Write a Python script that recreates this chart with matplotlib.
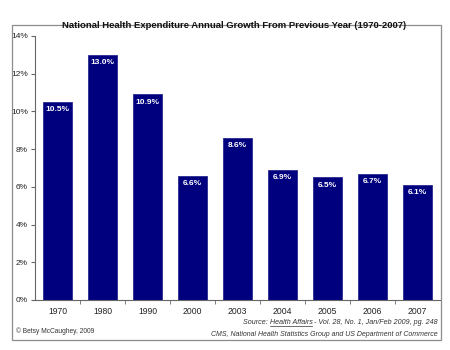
import matplotlib
matplotlib.use("Agg")
import matplotlib.pyplot as plt
from matplotlib.patches import Rectangle
from matplotlib.lines import Line2D

years = ["1970", "1980", "1990", "2000", "2003", "2004", "2005", "2006", "2007"]
growth = [10.5, 13.0, 10.9, 6.6, 8.6, 6.9, 6.5, 6.7, 6.1]
yticks = [0, 2, 4, 6, 8, 10, 12, 14]

plt.rcParams['font.family'] = ['Liberation Sans', 'DejaVu Sans']

W, H = 450, 350
fig = plt.figure(figsize=(4.5, 3.5), dpi=100)
fig.patch.set_facecolor("white")

# outer frame
fig.add_artist(Rectangle((12 / W, 1 - 340 / H), (441 - 12) / W, (340 - 25) / H,
                         transform=fig.transFigure, fill=False,
                         edgecolor="#8c8c8c", linewidth=0.9))

ax = fig.add_axes([35 / W, 1 - 300 / H, 405 / W, (300 - 36) / H])
x = list(range(len(years)))
bars = ax.bar(x, growth, width=0.63, color="#00007f", edgecolor="#2a2a90", linewidth=0.6)
ax.set_xlim(-0.5, len(years) - 0.5)
ax.set_ylim(0, 14)
ax.set_yticks(yticks)
ax.set_yticklabels([f"{t}%" for t in yticks], fontsize=6.0, color="#222222")
ax.set_xticks(x)
ax.set_xticklabels(years, fontsize=6.2, color="#222222")
ax.set_xticks([i + 0.5 for i in x[:-1]], minor=True)
ax.tick_params(axis="x", which="major", length=0, pad=5)
ax.tick_params(axis="x", which="minor", length=3, direction="out", color="#666666")
ax.tick_params(axis="y", length=3, direction="out", color="#666666", pad=2)
for s in ["top", "right"]:
    ax.spines[s].set_visible(False)
for s in ["left", "bottom"]:
    ax.spines[s].set_color("#666666")
    ax.spines[s].set_linewidth(0.8)

for xi, v in zip(x, growth):
    ax.annotate(f"{v:.1f}%", (xi, v), xytext=(0, -3), textcoords="offset points",
                ha="center", va="top", color="white", fontsize=6.0, fontweight="bold")

fig.text(234 / W, 1 - 26 / H, "National Health Expenditure Annual Growth From Previous Year (1970-2007)",
         ha="center", va="center", fontsize=6.8, fontweight="bold", color="#111111")

fig.text(16 / W, 1 - 331 / H, "\u00a9 Betsy McCaughey, 2009", ha="left", va="center",
         fontsize=4.8, color="#333333")

fig.text(438 / W, 1 - 335 / H, "CMS, National Health Statistics Group and US Department of Commerce",
         ha="right", va="center", fontsize=5.0, style="italic", color="#333333")

# source line with underlined journal name
fig.canvas.draw()
r = fig.canvas.get_renderer()
ysrc = 1 - 323 / H
t3 = fig.text(438 / W, ysrc, " - Vol. 28, No. 1, Jan/Feb 2009, pg. 248", ha="right", va="center",
              fontsize=5.1, style="italic", color="#333333")
bb3 = t3.get_window_extent(r)
t2 = fig.text(bb3.x0 / W, ysrc, "Health Affairs", ha="right", va="center",
              fontsize=5.1, style="italic", color="#333333")
bb2 = t2.get_window_extent(r)
t1 = fig.text(bb2.x0 / W, ysrc, "Source: ", ha="right", va="center",
              fontsize=5.1, style="italic", color="#333333")
fig.add_artist(Line2D([bb2.x0 / W, bb2.x1 / W], [(bb2.y0 + 0.5) / H, (bb2.y0 + 0.5) / H],
                      transform=fig.transFigure, color="#333333", linewidth=0.5))

fig.savefig("out.png", dpi=100, facecolor="white")
